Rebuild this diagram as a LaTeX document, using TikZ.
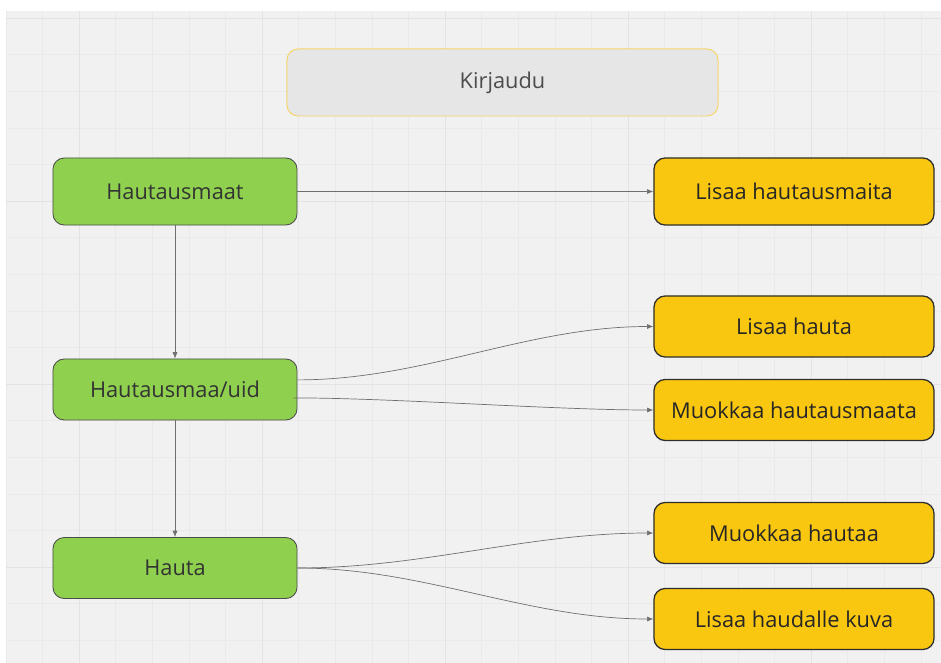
\documentclass[tikz,border=0pt]{standalone}
\usepackage{fontspec}
\setmainfont{Open Sans}
\usetikzlibrary{arrows.meta}

\definecolor{canvas}{HTML}{F1F1F1}
\definecolor{gridminor}{HTML}{EAEAEA}
\definecolor{gridmajor}{HTML}{E3E3E3}
\definecolor{pagegreen}{HTML}{8FD14F}
\definecolor{actionyellow}{HTML}{FAC710}
\definecolor{loginfill}{HTML}{E6E6E6}
\definecolor{loginedge}{HTML}{F5D56A}
\definecolor{linkgray}{HTML}{6F6F6F}

\begin{document}
\begin{tikzpicture}[
      x=0.025cm, y=-0.025cm,
      box/.style={rounded corners=0.28cm, align=center, inner sep=0pt,
                  font=\fontsize{15.5}{18.5}\selectfont},
      page/.style={box, fill=pagegreen, draw=black!70, line width=0.6pt,
                   minimum width=6.1cm, minimum height=1.525cm, text=black!80},
      action/.style={box, fill=actionyellow, draw=black!82, line width=0.9pt,
                     minimum width=7cm, minimum height=1.525cm, text=black!85},
      login/.style={box, fill=loginfill, draw=loginedge, line width=0.7pt,
                    minimum width=10.775cm, minimum height=1.675cm, text=black!70},
      link/.style={draw=linkgray, line width=0.5pt,
                   -{Latex[length=4.5pt,width=3.6pt]}}
    ]
    \useasboundingbox (0,0) rectangle (941,663);

    % Canvas
    \fill[canvas] (6,11) rectangle (941,663);
    \foreach \gx in {5.8,42.4,...,941}
      \draw[gridminor, line width=0.4pt] (\gx,11) -- (\gx,663);
    \foreach \gy in {18,54.6,...,663}
      \draw[gridminor, line width=0.4pt] (6,\gy) -- (941,\gy);
    \foreach \gx in {79,262,445,628,811}
      \draw[gridmajor, line width=0.6pt] (\gx,11) -- (\gx,663);
    \foreach \gy in {18,201,384,567}
      \draw[gridmajor, line width=0.6pt] (6,\gy) -- (941,\gy);

    % Login
    \node[login] (kirjaudu) at (502.5,82.5) {Kirjaudu};

    % Pages
    \node[page, minimum height=1.675cm] (maat) at (175,191.5) {Hautausmaat};
    \node[page] (uid) at (175,389.5) {Hautausmaa/uid};
    \node[page] (hauta) at (175,568) {Hauta};

    % Actions
    \node[action, minimum height=1.675cm] (lisaamaita) at (794,191.5) {Lisaa hautausmaita};
    \node[action] (lisaahauta) at (794,326.5) {Lisaa hauta};
    \node[action] (muokkaamaa) at (794,410) {Muokkaa hautausmaata};
    \node[action] (muokkaahauta) at (794,533) {Muokkaa hautaa};
    \node[action] (lisaakuva) at (794,619) {Lisaa haudalle kuva};

    % Links
    \draw[link] (maat) -- (lisaamaita);
    \draw[link] (maat) -- (uid);
    \draw[link] (uid) -- (hauta);
    \draw[link] ([yshift=0.24cm]uid.east) to[out=0, in=180, looseness=0.9] (lisaahauta.west);
    \draw[link] ([xshift=-0.1cm, yshift=-0.21cm]uid.east) to[out=0, in=180, looseness=0.7] (muokkaamaa.west);
    \draw[link] (hauta.east) to[out=0, in=180, looseness=0.9] (muokkaahauta.west);
    \draw[link] (hauta.east) to[out=0, in=180, looseness=0.9] (lisaakuva.west);
  \end{tikzpicture}
\end{document}
